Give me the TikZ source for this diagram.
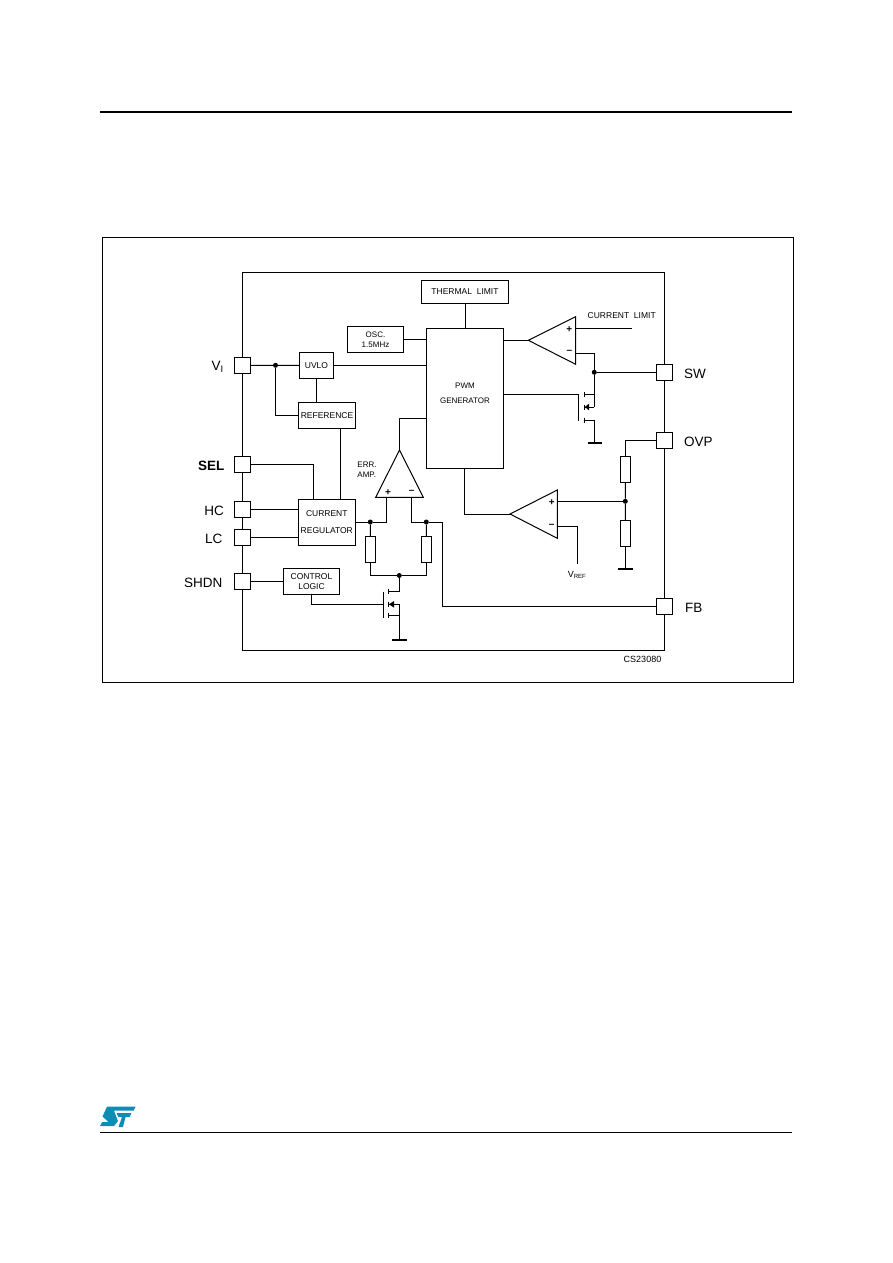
\documentclass[tikz,border=0pt]{standalone}
\usepackage{fontspec}
\setmainfont{Liberation Sans}

\definecolor{logoblue}{HTML}{0E8DB4}

\tikzset{
	wire/.style={line width=1pt},
	block/.style={draw, line width=1pt, fill=white, inner sep=0pt, align=center},
	pad/.style={draw, line width=1pt, fill=white, minimum size=16pt, inner sep=0pt},
	res/.style={draw, line width=1pt, fill=white, minimum width=10.4pt, minimum height=26pt, inner sep=0pt},
	dot/.style={circle, fill=black, minimum size=5pt, inner sep=0pt},
	pin/.style={inner sep=0pt, font=\fontsize{13.5}{14}\selectfont},
	small/.style={inner sep=0pt, align=center, font=\fontsize{8.5}{10}\selectfont},
	sign/.style={inner sep=0pt, font=\fontsize{10}{10}\selectfont\bfseries},
	gnd/.style={line width=1.8pt},
}

\begin{document}
\begin{tikzpicture}[x=1pt, y=-1pt]

		\useasboundingbox (0,0) rectangle (892,1263);

		% page rules and frame

		\draw[line width=2pt] (100,112) -- (792,112);

		\draw[line width=1pt] (100,1132.5) -- (792,1132.5);

		\draw[line width=1pt] (102.5,237.5) rectangle (793.5,682.5);

		% logo

		\fill[logoblue] (107,1106.7) -- (135.5,1106.7) -- (133.7,1110.7) -- (114,1110.7) -- (118,1121) -- (114,1126) -- (100,1126) -- (102,1122) -- (108.5,1122) -- (102.5,1116.5) -- cycle;

		\fill[logoblue] (116.5,1113) -- (131.5,1113) -- (129.5,1117) -- (125.5,1117) -- (123,1127) -- (118.5,1127) -- (122,1117) -- (118.5,1117) -- cycle;

		% chip outline

		\node[draw, line width=1pt, minimum width=421.5pt, minimum height=378pt, inner sep=0pt] (chip) at (453.25,461.5) {};

		% define point

		\coordinate (A)  at (528.3,340.3);

		\coordinate (A1) at (575.7,316.7);

		\coordinate (A2) at (575.7,364.3);

		\coordinate (B)  at (510,514);

		\coordinate (B1) at (557.3,490);

		\coordinate (B2) at (557.3,538.3);

		\coordinate (C)  at (399.5,450);

		\coordinate (C1) at (375.7,497.3);

		\coordinate (C2) at (423.3,497.3);

		% pads

		\node[pad] (vi) at (242.5,365.3) {};

		\node[pad] (sel) at (242.5,464.3) {};

		\node[pad] (hc) at (242.5,509.3) {};

		\node[pad] (lc) at (242.5,537.3) {};

		\node[pad] (shdn) at (242.5,581.3) {};

		\node[pad] (sw) at (664,372.3) {};

		\node[pad] (ovp) at (664,440.3) {};

		\node[pad] (fb) at (664,606.3) {};

		% pad labels

		\node[pin, anchor=west] at (211.5,367) {V\textsubscript{I}};

		\node[pin, anchor=east, font=\fontsize{13.5}{14}\selectfont\bfseries] at (224.5,466) {SEL};

		\node[pin, anchor=east] at (224,511) {HC};

		\node[pin, anchor=east] at (222.5,538.5) {LC};

		\node[pin, anchor=east] at (222.5,582.5) {SHDN};

		\node[pin, anchor=west] at (684,373.5) {SW};

		\node[pin, anchor=west] at (684,441.5) {OVP};

		\node[pin, anchor=west] at (685,607.5) {FB};

		% blocks

		\node[block, minimum width=34pt, minimum height=26pt, font=\fontsize{8.5}{10}\selectfont] (uvlo) at (316.5,365.5) {UVLO};

		\node[block, minimum width=57pt, minimum height=26pt, font=\fontsize{8.5}{10}\selectfont] (ref) at (327,415.5) {REFERENCE};

		\node[block, minimum width=56pt, minimum height=26pt, font=\fontsize{8}{10}\selectfont] (osc) at (375.5,339.5) {OSC.\\1.5MHz};

		\node[block, minimum width=87pt, minimum height=23pt, font=\fontsize{8.5}{10}\selectfont] (thermal) at (465,292) {THERMAL~~LIMIT};

		\node[block, minimum width=77pt, minimum height=140pt] (pwm) at (465,398.3) {};

		\node[small, font=\fontsize{8}{15.3}\selectfont] (pwmtext) at (465,393.6) {PWM\\GENERATOR};

		\node[block, minimum width=57pt, minimum height=46pt, font=\fontsize{8.5}{17.4}\selectfont] (curr) at (326.8,522.3) {CURRENT\\REGULATOR};

		\node[block, minimum width=56.4pt, minimum height=25.4pt, font=\fontsize{8.5}{9.7}\selectfont] (ctrl) at (311.5,581.3) {CONTROL\\LOGIC};

		\node[small, font=\fontsize{8}{9.7}\selectfont, align=left] (err) at (367,470) {ERR.\\AMP.};

		\node[small, anchor=west] (climit) at (587.5,316) {CURRENT~~LIMIT};

		\node[small, font=\fontsize{9}{10}\selectfont] (vref) at (577,574.5) {V\textsubscript{REF}};

		\node[small, font=\fontsize{9}{10}\selectfont] (cs) at (642.5,659.5) {CS23080};

		% comparators

		\draw[wire] (A) -- (A1) -- (A2) -- cycle;

		\draw[wire] (B) -- (B1) -- (B2) -- cycle;

		\draw[wire] (C) -- (C1) -- (C2) -- cycle;

		\node[sign] at (569.3,329.3) {+};

		\node[sign] at (569.3,352) {--};

		\node[sign] at (551.7,502.3) {+};

		\node[sign] at (551.7,526.3) {--};

		\node[sign] at (388,492.3) {+};

		\node[sign] at (411.7,492.3) {--};

		% junctions

		\node[dot] (j1) at (275.5,365.3) {};

		\node[dot] (j2) at (594.3,372.3) {};

		\node[dot] (j3) at (625.3,501.3) {};

		\node[dot] (j4) at (370.3,522) {};

		\node[dot] (j5) at (426.3,522) {};

		\node[dot] (j6) at (399.3,575.5) {};

		% resistors

		\node[res] (r1) at (370.5,549.3) {};

		\node[res] (r2) at (426.5,549.3) {};

		\node[res] (r3) at (625.5,469.3) {};

		\node[res] (r4) at (625.5,533.3) {};

		% left side wires

		\draw[wire] (vi) -- (j1) -- (uvlo);

		\draw[wire] (j1) |- (ref);

		\draw[wire] (uvlo) -- (uvlo |- ref.north);

		\draw[wire] (uvlo) -- (uvlo -| pwm.west);

		\draw[wire] (osc) -- (osc -| pwm.west);

		\draw[wire] (thermal) -- (pwm);

		\draw[wire] (sel) -| (313.3,499.3);

		\draw[wire] (hc) -- (hc -| curr.west);

		\draw[wire] (lc) -- (lc -| curr.west);

		\draw[wire] (shdn) -- (ctrl);

		\draw[wire] (340.3,428.5) -- (340.3,499.3);

		% error amplifier

		\draw[wire] (C) |- (399.3,418.3) -- (426.5,418.3);

		\draw[wire] (j4 -| curr.east) -- (j4) -- (386.3,522) -- (386.3,497.3);

		\draw[wire] (411.7,497.3) |- (j5);

		\draw[wire] (j5) -- (442.3,522) |- (fb);

		\draw[wire] (j4) -- (r1);

		\draw[wire] (j5) -- (r2);

		\draw[wire] (r1.south) |- (j6) -| (r2.south);

		% lower mosfet

		\coordinate (Q1) at (399.3,591);

		\coordinate (Q2) at (399.3,604.3);

		\coordinate (Q3) at (399.3,615.7);

		\coordinate (G1) at (399.3,640);

		\draw[wire] (311.3,593.7) |- (383.3,604.3);

		\draw[wire] (383.3,591.7) -- (383.3,618.3);

		\draw[wire] (388.7,589) -- (388.7,594);

		\draw[wire] (388.7,613.3) -- (388.7,618.3);

		\draw[wire] (388.7,601.5) -- (388.7,607);

		\draw[wire] (j6) -- (Q1) -- (388.7,591);

		\draw[wire] (388.7,604.3) -- (Q2) -- (G1);

		\draw[wire] (388.7,615.7) -- (Q3);

		\fill (389,604.3) -- (394,601) -- (394,607.6) -- cycle;

		\draw[gnd] (392.3,640) -- (407,640);

		% upper mosfet

		\coordinate (Q4) at (594.3,394.3);

		\coordinate (Q5) at (594.3,407);

		\coordinate (Q6) at (594.3,420.3);

		\coordinate (G2) at (594.3,442.7);

		\draw[wire] (A) -- (A -| pwm.east);

		\draw[wire] (pwm.east |- 0,394.3) -- (578.3,394.3);

		\draw[wire] (578.3,394.3) -- (578.3,420.7);

		\draw[wire] (584.3,392) -- (584.3,397);

		\draw[wire] (584.3,404.5) -- (584.3,409.5);

		\draw[wire] (584.3,417.7) -- (584.3,422.7);

		\draw[wire] (584.3,394.3) -- (Q4);

		\draw[wire] (584.3,407) -- (Q5);

		\draw[wire] (584.3,420.3) -- (Q6) -- (G2);

		\fill (584.8,407) -- (589,403.7) -- (589,410.3) -- cycle;

		\draw[gnd] (587.5,442.7) -- (602,442.7);

		% right side wires

		\draw[wire] (575.7,328.3) -- (632,328.3);

		\draw[wire] (575.7,353.3) -| (j2);

		\draw[wire] (j2) -- (Q5);

		\draw[wire] (j2) -- (sw);

		\draw[wire] (ovp) -| (r3.north);

		\draw[wire] (r3) -- (j3) -- (r4);

		\draw[wire] (r4) -- (625.5,568.7);

		\draw[gnd] (618,568.7) -- (633,568.7);

		\draw[wire] (j3) -- (557.3,501.3);

		\draw[wire] (557.3,526.3) -| (577.3,563.7);

		\draw[wire] (B) -| (464.3,468.3);

	\end{tikzpicture}
\end{document}
